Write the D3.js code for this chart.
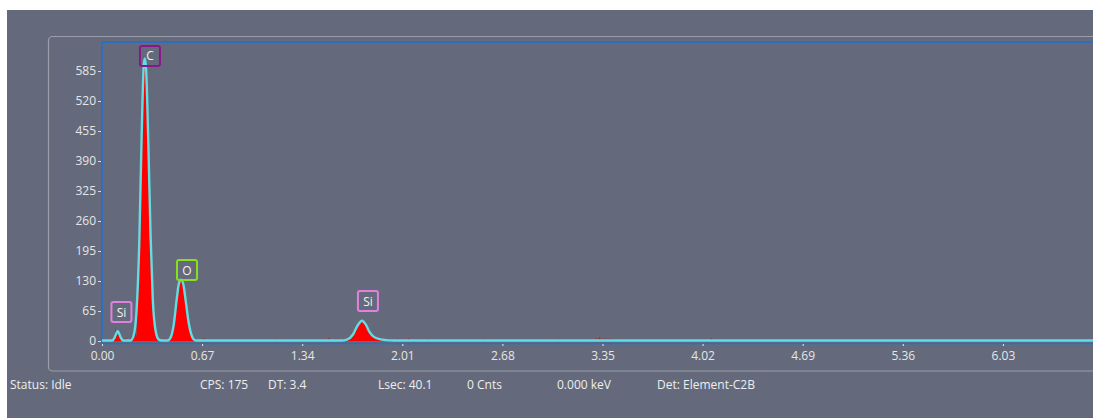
<!DOCTYPE html>
<html><head><meta charset="utf-8">
<script src="https://cdn.jsdelivr.net/npm/d3@7"></script>
<style>
html,body{margin:0;padding:0;background:#fff;overflow:hidden;}
svg{display:block;}
text{font-family:"Open Sans","Noto Sans",sans-serif;}
</style></head>
<body>
<svg id="c" width="1093" height="418"></svg>
<script>
// ---- data ----
const xTickValues = [0.00, 0.67, 1.34, 2.01, 2.68, 3.35, 4.02, 4.69, 5.36, 6.03];
const yTickValues = [0, 65, 130, 195, 260, 325, 390, 455, 520, 585];

// fitted spectrum (cyan line)
const fitEnergy = [0.00,0.07,0.085,0.105,0.125,0.14,0.19,0.21,0.23,0.25,0.265,0.28,0.287,0.295,0.31,0.325,0.34,0.36,0.38,0.40,
  0.44,0.46,0.48,0.50,0.515,0.53,0.545,0.56,0.58,0.60,0.62,0.64,
  1.00,1.60,1.64,1.68,1.71,1.74,1.765,1.79,1.82,1.86,1.90,1.95,3.00,6.70];
const fitCounts = [1,1,8,21,8,1,1,10,60,220,440,600,612,590,430,230,90,20,3,1,
  1,8,35,90,125,133,122,88,40,12,2,1,
  1,1,3,14,33,44,36,20,9,4,2,1,1,1];

// measured spectrum (red fill)
const specEnergy = [0.00,0.07,0.085,0.09,0.095,0.105,0.125,0.14,0.19,0.20,0.205,0.21,0.225,0.23,0.235,0.25,0.265,0.28,0.287,0.295,0.31,0.325,0.34,0.36,0.38,0.40,
  0.44,0.46,0.48,0.50,0.515,0.53,0.545,0.56,0.58,0.60,0.62,0.64,
  1.00,1.60,1.64,1.68,1.71,1.74,1.765,1.79,1.82,1.86,1.90,1.95,3.00,6.70];
const specCounts = [0,0,8,30,12,20,7,0,0,12,2,9,40,8,70,215,430,590,600,580,420,225,88,18,2,0,
  0,7,33,88,122,130,120,85,38,11,1,0,
  0,0,2,13,31,42,34,19,8,3,1,0,0,0];

// noise spikes along the baseline (energy, counts)
const noiseEnergy = [0.16,0.42,0.68,0.75,0.88,1.02,1.16,1.30,1.44,1.52,1.58,1.98,2.05,2.12,2.18,2.30,2.42,2.55,2.62,2.75,2.88,2.95,3.05,3.18,3.28,3.31,3.33,3.35,3.37,3.39,3.41,3.43,3.55,3.70,3.86,3.95,4.08,4.25,4.45,4.62,5.30,5.80];
const noiseCounts = [6,5,6,3,4,3,5,4,4,7,5,5,6,4,5,4,3,5,3,4,4,3,5,4,4,6,8,5,6,5,5,4,3,3,4,3,6,3,3,2,3,2];

// element labels
const labelNames  = ["Si","C","O","Si"];
const labelEnergy = [0.13, 0.321, 0.569, 1.78];
const labelCounts = [41, 596, 132, 65];
const labelColors = ["#e080e0","#8a168a","#86e01a","#e080e0"];

// status bar
const statusTexts = ["Status: Idle","CPS: 175","DT: 3.4","Lsec: 40.1","0 Cnts","0.000 keV","Det: Element-C2B"];
const statusX     = [10, 200, 268, 378, 467, 557, 657];

// ---- drawing ----
const svg = d3.select("#c");
const bg = "#646a7b";
svg.append("rect").attr("x",7).attr("y",10).attr("width",1086).attr("height",408).attr("fill",bg);

// panel border
svg.append("rect").attr("x",48.5).attr("y",36.5).attr("width",1100).attr("height",334.5)
  .attr("rx",4).attr("fill","none").attr("stroke","#9a9eaa").attr("stroke-width",1.2);

const x = d3.scaleLinear().domain([0,6.7]).range([102,1103]);
const y = d3.scaleLinear().domain([0,650]).range([341,41]);

// plot frame (blue)
const blue = "#1d6fd6";
svg.append("line").attr("x1",102).attr("x2",1093).attr("y1",42).attr("y2",42).attr("stroke",blue).attr("stroke-width",1.5);
svg.append("line").attr("x1",102).attr("x2",102).attr("y1",42).attr("y2",343.5).attr("stroke",blue).attr("stroke-width",1.5);
svg.append("line").attr("x1",102).attr("x2",1093).attr("y1",343.5).attr("y2",343.5).attr("stroke",blue).attr("stroke-width",1.5);

// noise spikes
svg.append("g").selectAll("line").data(noiseEnergy).join("line")
  .attr("x1",(d)=>x(d)).attr("x2",(d)=>x(d))
  .attr("y1",y(0)).attr("y2",(d,i)=>y(noiseCounts[i]))
  .attr("stroke","#e01010").attr("stroke-width",1.3);

// red area
const specData = specEnergy.map((e,i)=>[e,specCounts[i]]);
svg.append("path").datum(specData)
  .attr("d", d3.area().x(d=>x(d[0])).y0(y(0)).y1(d=>y(d[1])).curve(d3.curveMonotoneX))
  .attr("fill","#ff0000");

// cyan fit line
const fitData = fitEnergy.map((e,i)=>[e,fitCounts[i]]);
svg.append("path").datum(fitData)
  .attr("d", d3.line().x(d=>x(d[0])).y(d=>y(d[1])).curve(d3.curveMonotoneX))
  .attr("fill","none").attr("stroke","#62dde4").attr("stroke-width",2.4).attr("stroke-linejoin","round");

// y axis
const yAxis = d3.axisLeft(y).tickValues(yTickValues).tickSize(3).tickPadding(2).tickFormat(d3.format("d"));
const gy = svg.append("g").attr("transform","translate(101,0)").call(yAxis);
gy.select(".domain").remove();
gy.selectAll(".tick line").attr("stroke","#d8d8d8");
gy.selectAll(".tick text").attr("fill","#e6e6e6").attr("dy","0.28em").style("font-size","12px").attr("font-family","'Open Sans',sans-serif");

// x axis
const xAxis = d3.axisBottom(x).tickValues(xTickValues).tickSize(2).tickPadding(5).tickFormat(d3.format(".2f"));
const gx = svg.append("g").attr("transform","translate(0,344)").call(xAxis);
gx.select(".domain").remove();
gx.selectAll(".tick line").attr("stroke","#e8e8e8");
gx.selectAll(".tick text").attr("fill","#e6e6e6").style("font-size","12px").attr("font-family","'Open Sans',sans-serif");

// labels
const lg = svg.append("g").selectAll("g").data(labelNames).join("g")
  .attr("transform",(d,i)=>`translate(${x(labelEnergy[i])},${y(labelCounts[i])})`);
lg.append("rect").attr("x",-10).attr("y",-20).attr("width",20).attr("height",20).attr("rx",2)
  .attr("fill","none").attr("stroke",(d,i)=>labelColors[i]).attr("stroke-width",2);
lg.append("text").attr("x",0).attr("y",-5.5).attr("text-anchor","middle")
  .attr("fill","#f2f2f2").style("font-size","12px").text(d=>d);

// status bar
svg.append("g").selectAll("text").data(statusTexts).join("text")
  .attr("x",(d,i)=>statusX[i]).attr("y",389)
  .attr("fill","#eeeeee").style("font-size","12px").text(d=>d);
</script>
</body></html>
